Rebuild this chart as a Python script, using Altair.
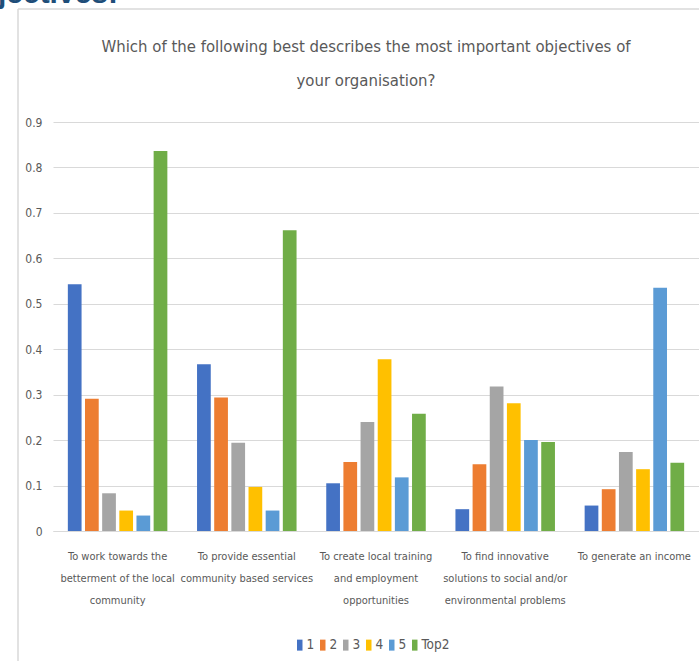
import altair as alt
import pandas as pd

# Survey categories (wrapped onto separate lines with "\n")
categories = [
    "To work towards the\nbetterment of the local\ncommunity",
    "To provide essential\ncommunity based services",
    "To create local training\nand employment\nopportunities",
    "To find innovative\nsolutions to social and/or\nenvironmental problems",
    "To generate an income",
]

series = ["1", "2", "3", "4", "5", "Top2"]
colors = ["#4472C4", "#ED7D31", "#A5A5A5", "#FFC000", "#5B9BD5", "#70AD47"]

# Share of respondents per rank, one list per category
values_cat1 = [0.543, 0.291, 0.083, 0.045, 0.034, 0.836]
values_cat2 = [0.367, 0.294, 0.194, 0.097, 0.045, 0.662]
values_cat3 = [0.105, 0.152, 0.240, 0.378, 0.118, 0.258]
values_cat4 = [0.048, 0.147, 0.318, 0.281, 0.200, 0.196]
values_cat5 = [0.056, 0.092, 0.174, 0.136, 0.535, 0.150]

title_lines = [
    "Which of the following best describes the most important objectives of",
    "your organisation?",
]
heading = "Objectives:"

y_ticks = [0, 0.1, 0.2, 0.3, 0.4, 0.5, 0.6, 0.7, 0.8, 0.9]

rows = []
for cat, vals in zip(categories, [values_cat1, values_cat2, values_cat3, values_cat4, values_cat5]):
    for s, v in zip(series, vals):
        rows.append({"category": cat, "series": s, "value": v})
df = pd.DataFrame(rows)

FONT = "DejaVu Sans Condensed, Liberation Sans Narrow, Liberation Sans, sans-serif"
TEXT = "#595959"
GRID = "#D9D9D9"

W, H = 646, 409

bars = alt.Chart(df).mark_bar().encode(
    x=alt.X(
        "category:N",
        sort=categories,
        scale=alt.Scale(paddingInner=0, paddingOuter=0),
        axis=alt.Axis(
            title=None,
            labelAngle=0,
            labelExpr="split(datum.label, '\\n')",
            labelFont=FONT,
            labelFontSize=11,
            labelColor=TEXT,
            labelLineHeight=22,
            labelPadding=19,
            labelBaseline="top",
            ticks=False,
            domain=True,
            domainColor=GRID,
            domainWidth=1,
            grid=False,
        ),
    ),
    xOffset=alt.XOffset(
        "series:N",
        sort=series,
        scale=alt.Scale(paddingInner=0.2, paddingOuter=0.865),
    ),
    y=alt.Y(
        "value:Q",
        scale=alt.Scale(domain=[0, 0.9], nice=False, zero=True),
        axis=alt.Axis(
            title=None,
            values=y_ticks,
            format=".1~f",
            labelFont=FONT,
            labelFontSize=12,
            labelColor=TEXT,
            labelPadding=11,
            ticks=False,
            domain=False,
            grid=True,
            gridColor=GRID,
            gridWidth=1,
        ),
    ),
    color=alt.Color(
        "series:N",
        sort=series,
        scale=alt.Scale(domain=series, range=colors),
        legend=alt.Legend(
            title=None,
            orient="none",
            legendX=240,
            legendY=516,
            direction="horizontal",
            columns=6,
            padding=0,
            symbolType="M-0.5,-1H0.5V1H-0.5Z",
            symbolSize=121,
            symbolStrokeWidth=0,
            labelFont=FONT,
            labelFontSize=13.5,
            labelColor=TEXT,
            labelOffset=0,
            columnPadding=1,
        ),
    ),
)

# Chart area frame
frame_left = alt.Chart(df.head(1)).mark_rule(color=GRID, strokeWidth=1.5).encode(
    x=alt.value(-35), y=alt.value(-113), y2=alt.value(H + 140)
)
frame_top = alt.Chart(df.head(1)).mark_rule(color=GRID, strokeWidth=1.5).encode(
    x=alt.value(-35), x2=alt.value(W + 10), y=alt.value(-113)
)

title1 = alt.Chart(df.head(1)).mark_text(
    font=FONT, fontSize=16.6, color=TEXT, align="center", baseline="alphabetic"
).encode(x=alt.value(313), y=alt.value(-70), text=alt.value(title_lines[0]))
title2 = alt.Chart(df.head(1)).mark_text(
    font=FONT, fontSize=16.6, color=TEXT, align="center", baseline="alphabetic"
).encode(x=alt.value(313), y=alt.value(-36), text=alt.value(title_lines[1]))

head = alt.Chart(df.head(1)).mark_text(
    font="Liberation Sans, sans-serif", fontSize=30, fontWeight="bold",
    color="#1F4E79", align="right", baseline="alphabetic"
).encode(x=alt.value(65), y=alt.value(-119), text=alt.value(heading))

chart = alt.layer(bars, frame_left, frame_top, title1, title2, head).properties(
    width=W,
    height=H,
    padding={"left": 53, "top": 122, "right": 0, "bottom": 130},
    autosize=alt.AutoSizeParams(type="none"),
    background="white",
).configure_view(stroke=None)

chart.save("out.html", embed_options={"renderer": "svg", "actions": False})
